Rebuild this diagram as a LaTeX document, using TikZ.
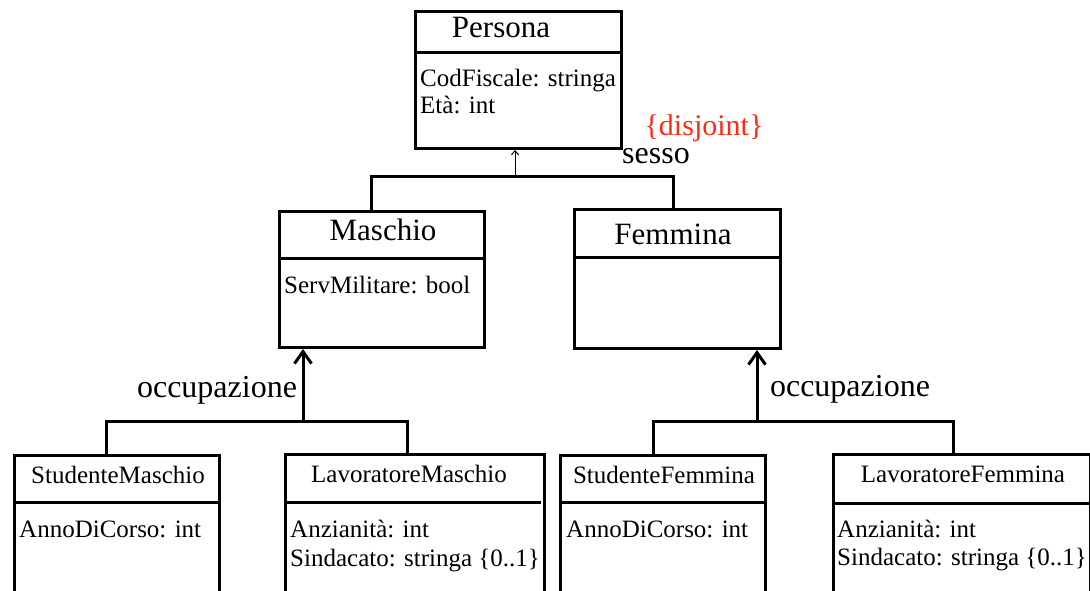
\documentclass[tikz,border=0pt]{standalone}
\usepackage{fontspec}
\setmainfont{Liberation Serif}
\usetikzlibrary{arrows.meta}
\definecolor{disjred}{RGB}{250,45,20}
\begin{document}
\begin{tikzpicture}[x=1pt,y=-1pt,
  cls/.style={draw, line width=3pt, rectangle, inner sep=0pt, anchor=north west},
  sep/.style={line width=3pt},
  conn/.style={line width=3pt},
  genarrow/.style={line width=3pt, -{Straight Barb[length=12pt,width=17pt,line width=3pt]}},
  thinarrow/.style={line width=1pt, -{Straight Barb[length=4pt,width=7pt]}},
  ttl/.style={anchor=base, inner sep=0pt, font=\fontsize{31pt}{33pt}\selectfont},
  sttl/.style={anchor=base, inner sep=0pt, font=\fontsize{25pt}{27pt}\selectfont},
  attr/.style={anchor=base west, inner sep=0pt, font=\fontsize{25pt}{27pt}\selectfont},
  lbl/.style={anchor=base, inner sep=0pt, font=\fontsize{32pt}{34pt}\selectfont}]
\useasboundingbox (0,0) rectangle (1090,590);
\clip (0,0) rectangle (1090,590);
% Persona
\node[cls, minimum width=206pt, minimum height=137pt] (persona) at (414,10) {};
\draw[sep] ([yshift=-42pt]persona.north west) -- ([yshift=-42pt]persona.north east);
\node[ttl] (personaT) at (501,37) {Persona};
\node[attr] (personaA1) at (420,86) {CodFiscale: stringa};
\node[attr] (personaA2) at (420,113) {Età: int};
% Maschio
\node[cls, minimum width=205pt, minimum height=136pt] (maschio) at (278,210) {};
\draw[sep] ([yshift=-48pt]maschio.north west) -- ([yshift=-48pt]maschio.north east);
\node[ttl] (maschioT) at (383,240) {Maschio};
\node[attr] (maschioA1) at (284,293) {ServMilitare: bool};
% Femmina
\node[cls, minimum width=206pt, minimum height=139pt] (femmina) at (573,208) {};
\draw[sep] ([yshift=-49pt]femmina.north west) -- ([yshift=-49pt]femmina.north east);
\node[ttl] (femminaT) at (673,244) {Femmina};
% labels
\node[lbl, text=disjred, font=\fontsize{30pt}{32pt}\selectfont] (disj) at (704,135) {\{disjoint\}};
\node[lbl] (sesso) at (656,163) {sesso};
\node[lbl] (occM) at (217,397) {occupazione};
\node[lbl] (occF) at (850,396) {occupazione};
% Bottom boxes
\node[cls, minimum width=205pt, minimum height=138pt] (sm) at (13,454) {};
\draw[sep] ([yshift=-48pt]sm.north west) -- ([yshift=-48pt]sm.north east);
\node[sttl] (smT) at (118,483) {StudenteMaschio};
\node[attr] (smA1) at (19,537) {AnnoDiCorso: int};
\node[cls, minimum width=259pt, minimum height=139pt] (lm) at (284,453) {};
\draw[sep] ([yshift=-49pt]lm.north west) -- ([yshift=-49pt,xshift=-5pt]lm.north east);
\node[sttl] (lmT) at (409,482) {LavoratoreMaschio};
\node[attr] (lmA1) at (290,537) {Anzianità: int};
\node[attr] (lmA2) at (290,566) {Sindacato: stringa \{0..1\}};
\node[cls, minimum width=205pt, minimum height=138pt] (sf) at (559,454) {};
\draw[sep] ([yshift=-48pt]sf.north west) -- ([yshift=-48pt]sf.north east);
\node[sttl] (sfT) at (664,483) {StudenteFemmina};
\node[attr] (sfA1) at (566,537) {AnnoDiCorso: int};
\node[cls, minimum width=257pt, minimum height=139pt] (lf) at (832,453) {};
\draw[sep] ([yshift=-50pt]lf.north west) -- ([yshift=-50pt]lf.north east);
\node[sttl] (lfT) at (963,482) {LavoratoreFemmina};
\node[attr] (lfA1) at (837,537) {Anzianità: int};
\node[attr] (lfA2) at (837,565) {Sindacato: stringa \{0..1\}};
% connectors: sesso
\coordinate (j0) at (515,176);
\coordinate (jm) at (371,176);
\coordinate (jf) at (673,176);
\draw[thinarrow] (j0) -- (j0 |- persona.south);
\draw[conn] (jm |- maschio.north) -- (jm) -- (jf) -- (jf |- femmina.north);
% connectors: occupazione (Maschio)
\coordinate (om) at (303,421);
\coordinate (om1) at (106,421);
\coordinate (om2) at (407,421);
\draw[conn] (om1 |- sm.north) -- (om1) -- (om2) -- (om2 |- lm.north);
\draw[genarrow] (om) -- (om |- maschio.south);
% connectors: occupazione (Femmina)
\coordinate (of) at (757,421);
\coordinate (of1) at (653,421);
\coordinate (of2) at (953,421);
\draw[conn] (of1 |- sf.north) -- (of1) -- (of2) -- (of2 |- lf.north);
\draw[genarrow] (of) -- (of |- femmina.south);
\end{tikzpicture}
\end{document}
